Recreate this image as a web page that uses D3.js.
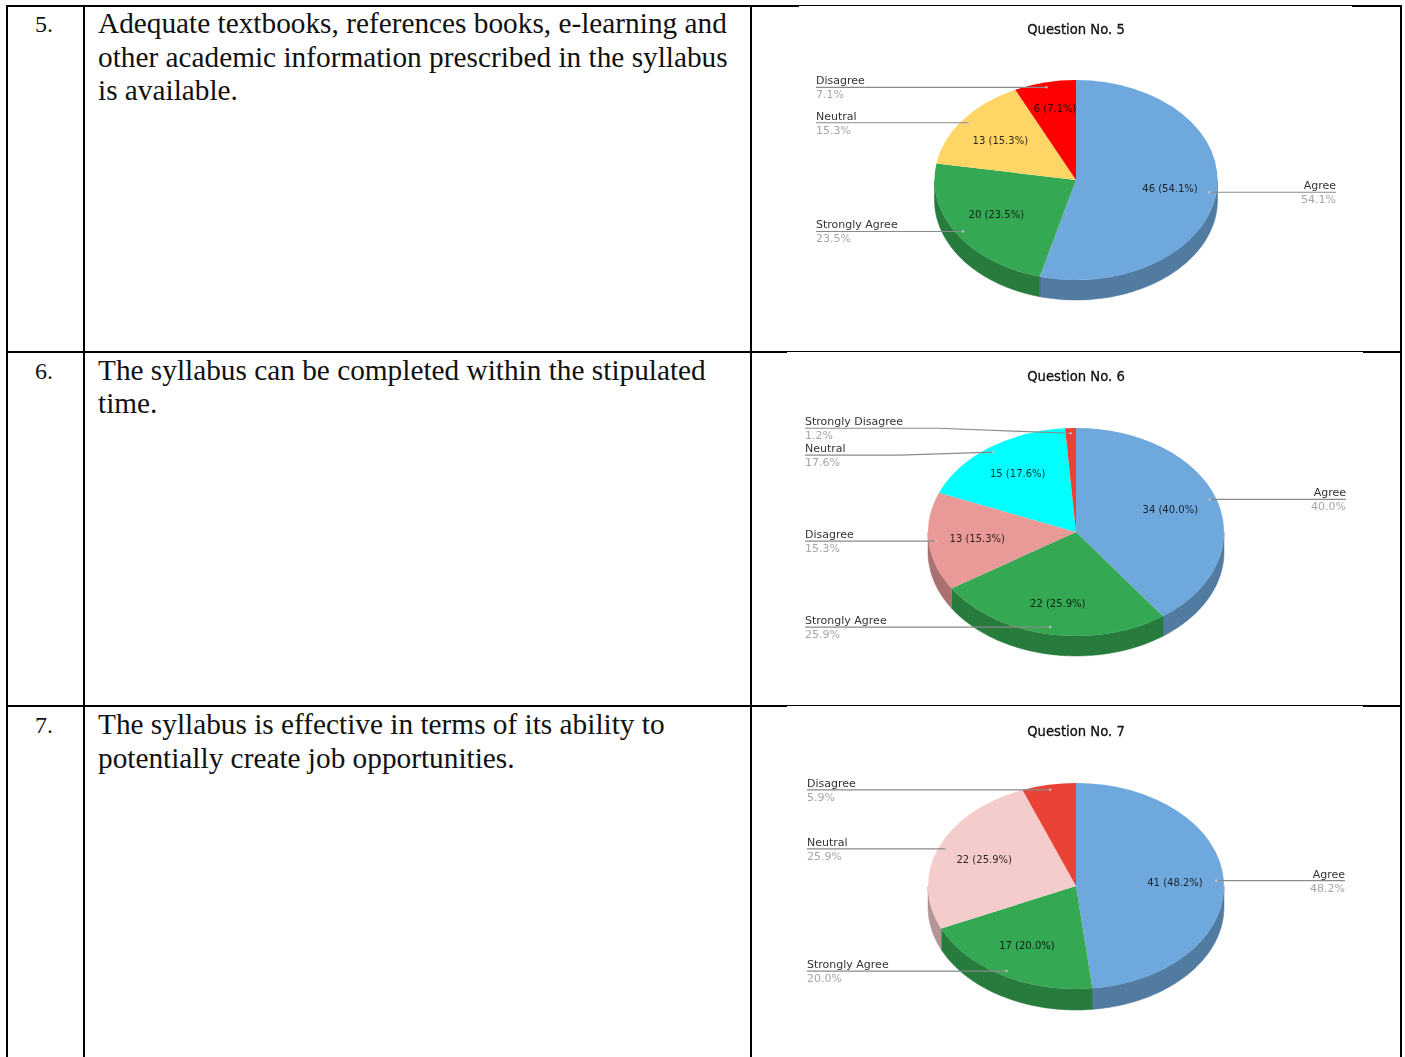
<!DOCTYPE html>
<html><head><meta charset="utf-8">
<style>html,body{margin:0;padding:0;background:#fff;overflow:hidden}svg{display:block}</style>
<script src="https://cdn.jsdelivr.net/npm/d3@7"></script></head><body>
<script>
const numbers = ["5.", "6.", "7."];
const statements = [
  ["Adequate textbooks, references books, e-learning and","other academic information prescribed in the syllabus","is available."],
  ["The syllabus can be completed within the stipulated","time."],
  ["The syllabus is effective in terms of its ability to","potentially create job opportunities."]
];
const titles = ["Question No. 5","Question No. 6","Question No. 7"];
const categoriesQ5 = ["Agree","Strongly Agree","Neutral","Disagree"];
const valuesQ5 = [46,20,13,6];
const percentQ5 = ["54.1%","23.5%","15.3%","7.1%"];
const colorsQ5 = ["#6fa8dc","#34a853","#ffd666","#ff0000"];
const categoriesQ6 = ["Agree","Strongly Agree","Disagree","Neutral","Strongly Disagree"];
const valuesQ6 = [34,22,13,15,1];
const percentQ6 = ["40.0%","25.9%","15.3%","17.6%","1.2%"];
const colorsQ6 = ["#6fa8dc","#34a853","#ea9999","#00ffff","#ea4335"];
const categoriesQ7 = ["Agree","Strongly Agree","Neutral","Disagree"];
const valuesQ7 = [41,17,22,5];
const percentQ7 = ["48.2%","20.0%","25.9%","5.9%"];
const colorsQ7 = ["#6fa8dc","#34a853","#f4cccc","#ea4335"];

const layout = [
 {cx:1076,cy:180,rx:141.5,ry:100,depth:20,titleY:34,left:816,right:1336,labelDy:[0,0,0,0],innerDy:[0,-2,1,-6]},
 {cx:1076,cy:532,rx:148,ry:104,depth:20,titleY:381,left:805,right:1346,labelDy:[-2,-2,0,3,-5],innerDy:[-1,3,0,-2,0]},
 {cx:1076,cy:886,rx:148,ry:103,depth:21,titleY:736,left:807,right:1345,labelDy:[0,0,0,0],innerDy:[0,0,0,0]}
];
const charts=[
 {cats:categoriesQ5,vals:valuesQ5,pct:percentQ5,cols:colorsQ5},
 {cats:categoriesQ6,vals:valuesQ6,pct:percentQ6,cols:colorsQ6},
 {cats:categoriesQ7,vals:valuesQ7,pct:percentQ7,cols:colorsQ7}
];
const W=1405,H=1057;
const svg=d3.select("body").append("svg").attr("width",W).attr("height",H);
// table rules: [y, x-from, x-to, weight]
const gridH=[[6,6,799,2],[5.5,799,1352,1],[6,1352,1402,2],
             [352,6,787,2],[351.5,787,1363,1],[352,1363,1402,2],
             [706,6,787,2],[705.5,787,1363,1],[706,1363,1402,2]];
const gridV=[7,84,751,1401];
const grid=svg.append("g").attr("stroke","#000");
gridH.forEach(([y,a,b,w])=>grid.append("line").attr("x1",a).attr("x2",b).attr("y1",y).attr("y2",y).attr("stroke-width",w));
gridV.forEach(x=>grid.append("line").attr("x1",x).attr("x2",x).attr("y1",5).attr("y2",H).attr("stroke-width",2));
const rowTop=[5,351.5,706];
const serif="'Liberation Serif','Times New Roman',serif";
numbers.forEach((n,i)=>{
  svg.append("text").attr("x",44).attr("y",rowTop[i]+27).attr("text-anchor","middle")
    .attr("font-family",serif).attr("font-size",24).attr("fill","#111").text(n);
  statements[i].forEach((l,j)=>svg.append("text").attr("x",98).attr("y",rowTop[i]+28+j*33.5)
    .attr("font-family",serif).attr("font-size",29.3).attr("fill","#111").text(l));
});
const sans="'DejaVu Sans',sans-serif";
const midA=d=>(d.startAngle+d.endAngle)/2;
charts.forEach((c,i)=>{
  const L=layout[i];
  const g=svg.append("g").style("filter","blur(0.35px)");
  const data=c.vals.map((v,k)=>({v,k,cat:c.cats[k],pct:c.pct[k],col:c.cols[k]}));
  const pie=d3.pie().sort(null).value(d=>d.v)(data);
  const px=a=>L.cx+L.rx*Math.sin(a), py=a=>L.cy-L.ry*Math.cos(a);
  const line=d3.line();
  pie.forEach(d=>{
    const a0=Math.max(d.startAngle,Math.PI/2),a1=Math.min(d.endAngle,Math.PI*1.5);
    if(a1<=a0) return;
    const as=d3.range(0,61).map(t=>a0+(a1-a0)*t/60);
    const top=as.map(a=>[px(a),py(a)]);
    const bot=as.slice().reverse().map(a=>[px(a),py(a)+L.depth]);
    g.append("path").attr("d",line(top.concat(bot))+"Z")
      .attr("fill",d3.interpolateRgb(d.data.col,"#000")(0.27))
      .attr("stroke",d3.interpolateRgb(d.data.col,"#000")(0.27)).attr("stroke-width",.5);
  });
  const arc=d3.arc().innerRadius(0).outerRadius(L.rx);
  const face=g.append("g").attr("transform",`translate(${L.cx},${L.cy}) scale(1,${L.ry/L.rx})`);
  face.selectAll("path").data(pie).join("path").attr("d",arc).attr("fill",d=>d.data.col);
  pie.forEach((d,k)=>{
    if(d.data.v<6) return;
    const a=midA(d);
    g.append("text").attr("x",L.cx+.67*L.rx*Math.sin(a)).attr("y",L.cy-.67*L.ry*Math.cos(a)+3.5+L.innerDy[k])
      .attr("text-anchor","middle").attr("font-family",sans).attr("font-size",10)
      .attr("fill",d3.interpolateRgb(d.data.col,"#000")(.8)).text(`${d.data.v} (${d.data.pct})`);
  });
  g.append("text").attr("x",L.cx).attr("y",L.titleY).attr("text-anchor","middle")
    .attr("font-family",sans).attr("font-size",13.2).attr("fill","#111")
    .attr("stroke","#111").attr("stroke-width",.3).text(titles[i]);
  pie.forEach((d,k)=>{
    const a=midA(d),ax=L.cx+.95*L.rx*Math.sin(a);
    const dy=L.labelDy[k],bent=Math.abs(dy)>2;
    const ly=L.cy-.95*L.ry*Math.cos(a)+dy, ay=bent?ly-dy:ly;
    const right=Math.sin(a)>0,lx=right?L.right:L.left;
    const pts=bent?[[lx,ly],[lx+(ax-lx)*.5,ly],[ax,ay]]:[[lx,ly],[ax,ay]];
    g.append("path").attr("d",line(pts)).attr("fill","none").attr("stroke","#8a8a8a").attr("stroke-width",1.2);
    g.append("circle").attr("cx",ax).attr("cy",ay).attr("r",1.3).attr("fill","#ccc").attr("opacity",.8);
    const anc=right?"end":"start";
    g.append("text").attr("x",lx).attr("y",ly-3).attr("text-anchor",anc).attr("font-family",sans)
      .attr("font-size",11).attr("fill","#333").text(d.data.cat);
    g.append("text").attr("x",lx).attr("y",ly+11).attr("text-anchor",anc).attr("font-family",sans)
      .attr("font-size",11).attr("fill","#a6a6a6").text(d.data.pct);
  });
});
</script></body></html>
